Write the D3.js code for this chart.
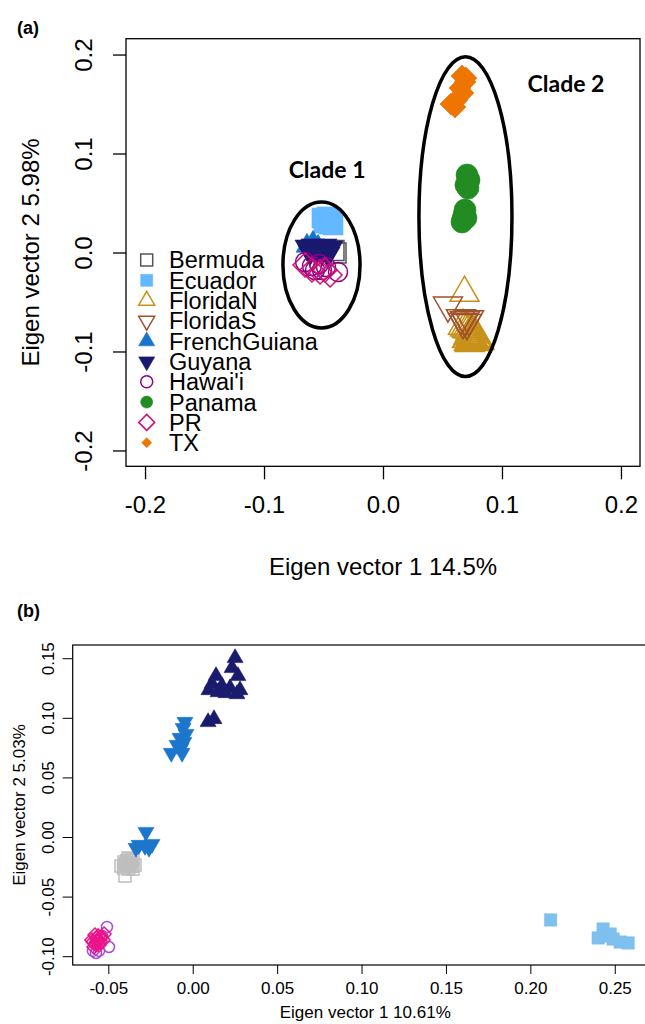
<!DOCTYPE html>
<html>
<head>
<meta charset="utf-8">
<script src="https://cdn.jsdelivr.net/npm/d3@7"></script>
<style>
  body { margin: 0; background: #fff; }
  svg { display: block; font-family: "Liberation Sans", Arial, sans-serif; }
</style>
</head>
<body>
<svg id="chart" width="645" height="1024"></svg>
<script>
// ---- panel (a) data ----
const popsA = ["Bermuda", "Ecuador", "FloridaN", "FloridaS", "FrenchGuiana", "Guyana", "Hawai'i", "Panama", "PR", "TX"];
const bermudaA = [[-0.0412, 0.0020], [-0.0395, -0.0005]];
const ecuadorA = [[-0.0513, 0.0348], [-0.0471, 0.0359], [-0.0429, 0.0338], [-0.0496, 0.0298], [-0.0454, 0.0288], [-0.0420, 0.0278]];
const floridaNA = [[0.0685, -0.0409], [0.0672, -0.0742], [0.0706, -0.0773], [0.0739, -0.0793], [0.0765, -0.0813],
  [0.0723, -0.0833], [0.0748, -0.0854], [0.0782, -0.0864], [0.0706, -0.0874], [0.0739, -0.0884],
  [0.0765, -0.0894], [0.0790, -0.0884], [0.0723, -0.0904], [0.0756, -0.0904],
  [0.0690, -0.0760], [0.0722, -0.0780], [0.0750, -0.0800], [0.0775, -0.0830], [0.0735, -0.0845], [0.0760, -0.0870],
  [0.0715, -0.0860], [0.0745, -0.0895], [0.0800, -0.0870], [0.0775, -0.0905], [0.0730, -0.0915], [0.0810, -0.0895]];
const floridaSA = [[0.0546, -0.0535], [0.0655, -0.0662], [0.0689, -0.0682], [0.0723, -0.0672], [0.0706, -0.0712], [0.0672, -0.0702]];
const frenchGuianaA = [[-0.0588, 0.0096], [-0.0639, 0.0066], [-0.0546, 0.0056]];
const guyanaA = [[-0.0639, 0.0056], [-0.0588, 0.0066], [-0.0538, 0.0056], [-0.0487, 0.0066], [-0.0437, 0.0045],
  [-0.0613, 0.0005], [-0.0513, 0.0005], [-0.0462, -0.0015], [-0.0563, 0.0025]];
const hawaiiA = [[-0.0655, -0.0096], [-0.0597, -0.0136], [-0.0538, -0.0116], [-0.0479, -0.0146], [-0.0571, -0.0177],
  [-0.0378, -0.0197], [-0.0513, -0.0177]];
const panamaA = [[0.0706, 0.0783], [0.0723, 0.0732], [0.0697, 0.0682], [0.0714, 0.0652],
  [0.0689, 0.0429], [0.0681, 0.0379], [0.0672, 0.0338], [0.0697, 0.0348], [0.0664, 0.0308]];
const prA = [[-0.0655, -0.0126], [-0.0597, -0.0177], [-0.0529, -0.0197], [-0.0445, -0.0227], [-0.0487, -0.0177]];
const txA = [[0.0664, 0.1783], [0.0689, 0.1722], [0.0647, 0.1662], [0.0672, 0.1611], [0.0622, 0.1540],
  [0.0571, 0.1500], [0.0605, 0.1470], [0.0697, 0.1763]];
const ticksA = [-0.2, -0.1, 0.0, 0.1, 0.2];

const cladeNames = ["Clade 1", "Clade 2"];
const cladeCx = [-0.0517, 0.0693];
const cladeCy = [-0.0126, 0.0362];
const cladeRx = [0.0324, 0.0391];
const cladeRy = [0.0636, 0.1616];
const cladeLabelX = [-0.047, 0.1538];
const cladeLabelY = [0.083, 0.170];

// ---- panel (b) data ----
const navyB = [[0.0251, 0.1502], [0.0233, 0.1418], [0.0268, 0.1351], [0.0138, 0.1351], [0.0114, 0.1284],
  [0.0173, 0.1267], [0.0221, 0.1250], [0.0280, 0.1233], [0.0096, 0.1233], [0.0150, 0.1216],
  [0.0197, 0.1208], [0.0262, 0.1199], [0.0091, 0.0965], [0.0126, 0.0990]];
const blueB = [[-0.0046, 0.0965], [-0.0057, 0.0914], [-0.0040, 0.0864], [-0.0075, 0.0831], [-0.0052, 0.0797],
  [-0.0093, 0.0772], [-0.0069, 0.0747], [-0.0127, 0.0705], [-0.0063, 0.0705],
  [-0.0277, 0.0042], [-0.0318, -0.0067], [-0.0283, -0.0076], [-0.0241, -0.0059], [-0.0336, -0.0092], [-0.0259, -0.0092]];
const grayB = [[-0.0383, -0.0176], [-0.0354, -0.0193], [-0.0407, -0.0210], [-0.0371, -0.0227], [-0.0395, -0.0243],
  [-0.0342, -0.0235], [-0.0425, -0.0243], [-0.0383, -0.0268], [-0.0354, -0.0268], [-0.0401, -0.0327],
  [-0.0390, -0.0200], [-0.0365, -0.0215], [-0.0375, -0.0250], [-0.0400, -0.0225], [-0.0360, -0.0245],
  [-0.0385, -0.0235], [-0.0410, -0.0260], [-0.0370, -0.0185]];
const purpleB = [[-0.0508, -0.0755], [-0.0496, -0.0923], [-0.0591, -0.0956], [-0.0573, -0.0973], [-0.0555, -0.0956],
  [-0.0561, -0.0864], [-0.0538, -0.0830], [-0.0579, -0.0898]];
const pinkB = [[-0.0579, -0.0822], [-0.0549, -0.0847], [-0.0567, -0.0881], [-0.0531, -0.0864], [-0.0597, -0.0864],
  [-0.0555, -0.0906], [-0.0585, -0.0923], [-0.0525, -0.0814],
  [-0.0570, -0.0850], [-0.0560, -0.0870], [-0.0545, -0.0880], [-0.0575, -0.0900], [-0.0590, -0.0880],
  [-0.0540, -0.0840], [-0.0560, -0.0830]];
const skyB = [[0.2120, -0.0696], [0.2431, -0.0772], [0.2402, -0.0847], [0.2443, -0.0831], [0.2473, -0.0814],
  [0.2490, -0.0856], [0.2532, -0.0881], [0.2579, -0.0889]];
const xTicksB = [-0.05, 0.00, 0.05, 0.10, 0.15, 0.20, 0.25];
const yTicksB = [-0.10, -0.05, 0.00, 0.05, 0.10, 0.15];

// ---- styles ----
const styleA = {
  "Bermuda":      { shape: "square", filled: false, color: "#555555", size: 10, legendSize: 6 },
  "Ecuador":      { shape: "square", filled: true,  color: "#63B8FF", size: 10, legendSize: 6 },
  "FloridaN":     { shape: "triUp",  filled: false, color: "#C8921A", size: 14.5, legendSize: 8 },
  "FloridaS":     { shape: "triDown", filled: false, color: "#A0522D", size: 14.5, legendSize: 8 },
  "FrenchGuiana": { shape: "triUp",  filled: true,  color: "#1874CD", size: 11, legendSize: 8 },
  "Guyana":       { shape: "triDown", filled: true, color: "#191970", size: 12, legendSize: 8 },
  "Hawai'i":      { shape: "circle", filled: false, color: "#8B008B", size: 9.5, legendSize: 6 },
  "Panama":       { shape: "circle", filled: true,  color: "#228B22", size: 11, legendSize: 6 },
  "PR":           { shape: "diamond", filled: false, color: "#CD1076", size: 12, legendSize: 8 },
  "TX":           { shape: "diamond", filled: true, color: "#EE7600", size: 11, legendSize: 5 }
};
const pointsA = {
  "Bermuda": bermudaA, "Ecuador": ecuadorA, "FloridaN": floridaNA, "FloridaS": floridaSA,
  "FrenchGuiana": frenchGuianaA, "Guyana": guyanaA, "Hawai'i": hawaiiA, "Panama": panamaA, "PR": prA, "TX": txA
};

const groupsB = [
  { pts: grayB,   shape: "square",  filled: false, color: "#BEBEBE", size: 6 },
  { pts: skyB,    shape: "square",  filled: true,  color: "#7EC0EE", size: 6.2 },
  { pts: navyB,   shape: "triUp",   filled: true,  color: "#1B1B6E", size: 8 },
  { pts: blueB,   shape: "triDown", filled: true,  color: "#1C76CC", size: 8 },
  { pts: purpleB, shape: "circle",  filled: false, color: "#A848D8", size: 5.5 },
  { pts: pinkB,   shape: "diamond", filled: false, color: "#EE1289", size: 7 }
];

function shapePath(type, s) {
  const h = s * Math.sqrt(3);
  switch (type) {
    case "square": return `M${-s},${-s}h${2 * s}v${2 * s}h${-2 * s}Z`;
    case "circle": return `M${s},0A${s},${s} 0 1,1 ${-s},0A${s},${s} 0 1,1 ${s},0Z`;
    case "triUp": return `M0,${-2 * h / 3}L${s},${h / 3}L${-s},${h / 3}Z`;
    case "triDown": return `M0,${2 * h / 3}L${s},${-h / 3}L${-s},${-h / 3}Z`;
    case "diamond": return `M0,${-s}L${s},0L0,${s}L${-s},0Z`;
  }
}

function drawMarks(g, pts, st, x, y, size) {
  g.selectAll(null)
    .data(pts)
    .enter().append("path")
    .attr("transform", d => `translate(${x(d[0])},${y(d[1])})`)
    .attr("d", shapePath(st.shape, size))
    .style("fill", st.filled ? st.color : "none")
    .style("stroke", st.color)
    .style("stroke-width", st.filled ? 0.6 : 1.5);
}

const svg = d3.select("#chart");

// ===== Panel (a) =====
const xA = d3.scaleLinear().domain([-0.216, 0.216]).range([126, 640]);
const yA = d3.scaleLinear().domain([-0.216, 0.216]).range([466.3, 38.7]);
const gA = svg.append("g");
const fmt1 = d => d.toFixed(1);

gA.append("text").attr("x", 17).attr("y", 34)
  .style("font-size", "18px").style("font-weight", "bold").text("(a)");

gA.append("rect")
  .attr("x", xA.range()[0]).attr("y", yA.range()[1])
  .attr("width", xA.range()[1] - xA.range()[0])
  .attr("height", yA.range()[0] - yA.range()[1])
  .style("fill", "none").style("stroke", "#000").style("stroke-width", 1.3);

// axes
const axA = gA.append("g").attr("transform", `translate(0,${yA.range()[0]})`)
  .call(d3.axisBottom(xA).tickValues(ticksA).tickFormat(fmt1).tickSize(13).tickPadding(17));
axA.select(".domain").remove();
axA.selectAll("text").style("font-size", "24px").style("font-family", "Liberation Sans, Arial, sans-serif");
axA.selectAll("line").style("stroke-width", 1.3);

const ayA = gA.append("g").attr("transform", `translate(${xA.range()[0]},0)`)
  .call(d3.axisLeft(yA).tickValues(ticksA).tickFormat(fmt1).tickSize(13).tickPadding(0));
ayA.select(".domain").remove();
ayA.selectAll("line").style("stroke-width", 1.3);
ayA.selectAll("text")
  .attr("x", null).attr("dy", null)
  .attr("transform", d => `translate(${83.5 - xA.range()[0]},0) rotate(-90)`)
  .attr("dy", "0.35em")
  .style("text-anchor", "middle")
  .style("font-size", "24px").style("font-family", "Liberation Sans, Arial, sans-serif");

gA.append("text")
  .attr("x", (xA.range()[0] + xA.range()[1]) / 2).attr("y", 575)
  .style("text-anchor", "middle").style("font-size", "24px")
  .text("Eigen vector 1 14.5%");
gA.append("text")
  .attr("transform", `translate(31,${(yA.range()[0] + yA.range()[1]) / 2}) rotate(-90)`)
  .attr("dy", "0.35em")
  .style("text-anchor", "middle").style("font-size", "24px")
  .text("Eigen vector 2 5.98%");

// points
popsA.forEach(p => drawMarks(gA.append("g"), pointsA[p], styleA[p], xA, yA, styleA[p].size));

// clade ellipses
cladeNames.forEach((name, i) => {
  gA.append("ellipse")
    .attr("cx", xA(cladeCx[i])).attr("cy", yA(cladeCy[i]))
    .attr("rx", xA(cladeCx[i] + cladeRx[i]) - xA(cladeCx[i]))
    .attr("ry", yA(cladeCy[i]) - yA(cladeCy[i] + cladeRy[i]))
    .style("fill", "none").style("stroke", "#000").style("stroke-width", 3.5);
  gA.append("text")
    .attr("x", xA(cladeLabelX[i])).attr("y", yA(cladeLabelY[i]))
    .attr("dy", "0.35em")
    .style("text-anchor", "middle")
    .style("font-family", "Lato, 'Open Sans', sans-serif")
    .style("font-weight", "bold").style("font-size", "23px")
    .text(name);
});

// legend
const legA = gA.append("g");
popsA.forEach((p, i) => {
  const ly = 260 + i * 20.3;
  const st = styleA[p];
  legA.append("path")
    .attr("transform", `translate(146.7,${ly})`)
    .attr("d", shapePath(st.shape, st.legendSize))
    .style("fill", st.filled ? st.color : "none")
    .style("stroke", st.color).style("stroke-width", st.filled ? 0.6 : 1.5);
  legA.append("text").attr("x", 169).attr("y", ly).attr("dy", "0.36em")
    .style("font-size", "23.5px").text(p);
});

// ===== Panel (b) =====
const xB = d3.scaleLinear().domain([-0.0711, 0.2755]).range([72.7, 657.8]);
const yB = d3.scaleLinear().domain([-0.1074, 0.1611]).range([965, 645]);
const gB = svg.append("g");
const fmt2 = d => d.toFixed(2);

gB.append("text").attr("x", 17).attr("y", 617)
  .style("font-size", "18px").style("font-weight", "bold").text("(b)");

gB.append("rect")
  .attr("x", xB.range()[0]).attr("y", yB.range()[1])
  .attr("width", xB.range()[1] - xB.range()[0])
  .attr("height", yB.range()[0] - yB.range()[1])
  .style("fill", "none").style("stroke", "#000").style("stroke-width", 1.2);

const axB = gB.append("g").attr("transform", `translate(0,${yB.range()[0]})`)
  .call(d3.axisBottom(xB).tickValues(xTicksB).tickFormat(fmt2).tickSize(9).tickPadding(8));
axB.select(".domain").remove();
axB.selectAll("text").style("font-size", "17px").style("font-family", "Liberation Sans, Arial, sans-serif");

const ayB = gB.append("g").attr("transform", `translate(${xB.range()[0]},0)`)
  .call(d3.axisLeft(yB).tickValues(yTicksB).tickFormat(fmt2).tickSize(10).tickPadding(0));
ayB.select(".domain").remove();
ayB.selectAll("text")
  .attr("x", null).attr("dy", null)
  .attr("transform", d => `translate(${48.5 - xB.range()[0]},0) rotate(-90)`)
  .attr("dy", "0.35em")
  .style("text-anchor", "middle")
  .style("font-size", "17px").style("font-family", "Liberation Sans, Arial, sans-serif");

gB.append("text")
  .attr("x", (xB.range()[0] + xB.range()[1]) / 2).attr("y", 1018)
  .style("text-anchor", "middle").style("font-size", "17px")
  .text("Eigen vector 1 10.61%");
gB.append("text")
  .attr("transform", `translate(19,${(yB.range()[0] + yB.range()[1]) / 2}) rotate(-90)`)
  .attr("dy", "0.35em")
  .style("text-anchor", "middle").style("font-size", "17px")
  .text("Eigen vector 2 5.03%");

groupsB.forEach(gr => drawMarks(gB.append("g"), gr.pts, gr, xB, yB, gr.size));
</script>
</body>
</html>
